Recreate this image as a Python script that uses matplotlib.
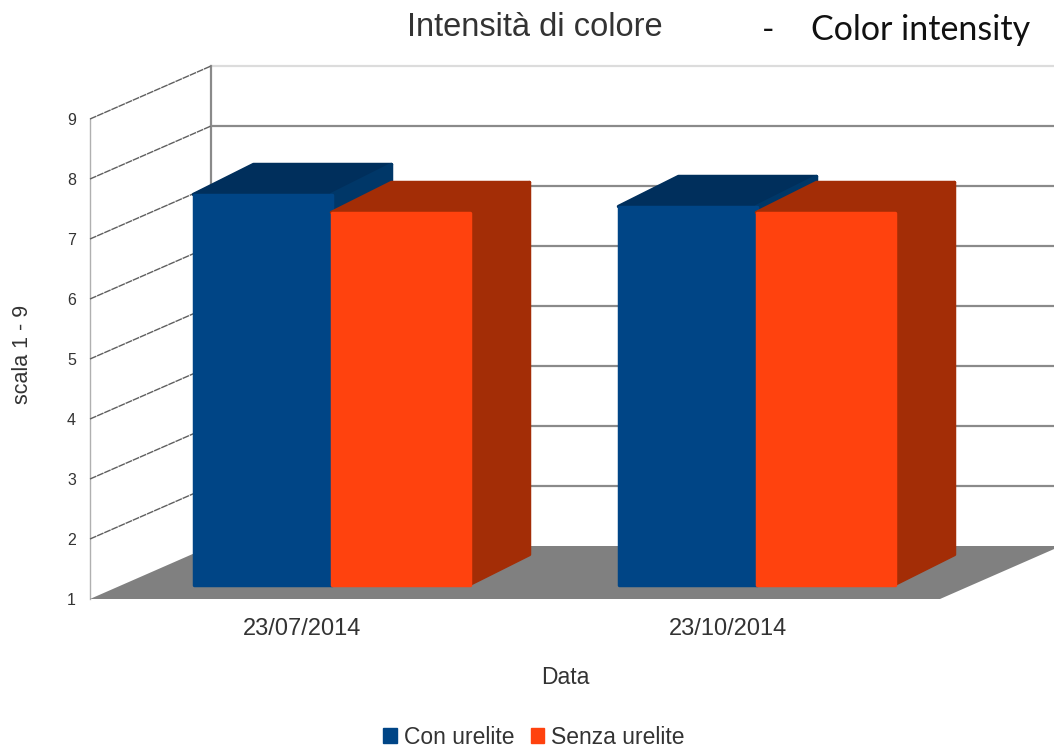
import matplotlib
matplotlib.use("Agg")
import matplotlib.pyplot as plt
from matplotlib.patches import Patch, Polygon

# Data
dates = ["23/07/2014", "23/10/2014"]
con_urelite = [7.5, 7.3]
senza_urelite = [7.2, 7.2]
scale = [1, 2, 3, 4, 5, 6, 7, 8, 9]

W, H = 1054, 749
fig = plt.figure(figsize=(W / 100, H / 100), dpi=100, facecolor="white")
ax = fig.add_axes([90 / W, 1 - 599 / H, 850 / W, 480 / H])
ax.set_xlim(-0.5, 1.5)
ax.set_ylim(1, 9)
for s in ax.spines.values():
    s.set_visible(False)
ax.patch.set_visible(False)

# pixels to data units
PX = 2 / 850
PY = 8 / 480
WALL_DX, WALL_DY = 121 * PX, 53 * PY
BAR_W = 138 * PX
BAR_OFF_X, BAR_OFF_Y = 29 * PX, 14.5 * PY
BAR_DX, BAR_DY = 60 * PX, 30 * PY


def poly(pts, color, z, lw=0.0):
    ax.add_patch(Polygon(pts, closed=True, facecolor=color, edgecolor=color, lw=lw,
                         joinstyle="round", clip_on=False, zorder=z))


def bar3d(left, value, front, top, side, z):
    x0 = left + BAR_OFF_X
    x1 = x0 + BAR_W
    y0 = 1 + BAR_OFF_Y
    y1 = value + BAR_OFF_Y
    poly([(x0, y1), (x1, y1), (x1 + BAR_DX, y1 + BAR_DY), (x0 + BAR_DX, y1 + BAR_DY)], top, z, 2.5)
    poly([(x1, y0), (x1 + BAR_DX, y0 + BAR_DY), (x1 + BAR_DX, y1 + BAR_DY), (x1, y1)], side, z + 0.1, 2.5)
    poly([(x0, y0), (x1, y0), (x1, y1), (x0, y1)], front, z + 0.2, 2.5)


# floor
xl, xr = ax.get_xlim()
poly([(xl, 1), (xr, 1), (xr + WALL_DX, 1 + WALL_DY), (xl + WALL_DX, 1 + WALL_DY)], "#808080", 1)

# walls
for v in scale[1:]:
    c = "#dcdcdc" if v == 9 else "#8a8a8a"
    ax.plot([xl + WALL_DX, xr + WALL_DX], [v + WALL_DY, v + WALL_DY], color=c, lw=1.6,
            clip_on=False, zorder=0.5)
    ax.plot([xl, xl + WALL_DX], [v, v + WALL_DY], color="#5f5f5f", lw=1.0, ls=(0, (5, 0.6)),
            clip_on=False, zorder=0.6)
ax.plot([xl + WALL_DX, xl + WALL_DX], [1 + WALL_DY, 9 + WALL_DY], color="#8a8a8a", lw=1.6,
        clip_on=False, zorder=0.5)
ax.plot([xl, xl], [1, 9], color="#b0b0b0", lw=1.0, clip_on=False, zorder=0.5)

# bars
for i in range(len(dates)):
    bar3d(i - BAR_W, con_urelite[i], "#004586", "#002f5c", "#003768", 3 + i * 2)
    bar3d(i, senza_urelite[i], "#ff420e", "#a32d06", "#a32d06", 4 + i * 2)

# axis text
ax.set_xticks(range(len(dates)), dates)
ax.set_yticks(scale, [str(v) for v in scale])
ax.tick_params(axis="both", length=0, labelcolor="#333333")
ax.tick_params(axis="x", labelsize=17, pad=14)
ax.tick_params(axis="y", labelsize=11.5, pad=10)
for t in ax.get_xticklabels() + ax.get_yticklabels():
    t.set_family("Liberation Sans")

fig.text(535 / W, 1 - 27 / H, "Intensità di colore", ha="center", va="center",
         fontsize=23.5, family="Liberation Sans", color="#333333")
fig.text(921 / W, 1 - 30 / H, "Color intensity", ha="center", va="center",
         fontsize=24.5, family="Lato", color="#111111")
fig.text(768 / W, 1 - 31 / H, "-", ha="center", va="center",
         fontsize=24, family="Lato", color="#111111")
fig.text(565 / W, 1 - 678 / H, "Data", ha="center", va="center",
         fontsize=16.5, family="Liberation Sans", color="#333333")
fig.text(23 / W, 1 - 354 / H, "scala 1 - 9", ha="center", va="center", rotation=90,
         fontsize=15.5, family="Liberation Sans", color="#333333")

# legend
handles = [Patch(color="#004586", label="Con urelite"), Patch(color="#ff420e", label="Senza urelite")]
fig.legend(handles=handles, loc="center", bbox_to_anchor=(534 / W, 1 - 737 / H), ncol=2,
           frameon=False, handlelength=0.6, handleheight=0.6, handletextpad=0.3,
           columnspacing=0.7, labelcolor="#333333",
           prop={"family": "Liberation Sans", "size": 16.5})

fig.savefig("out.png", dpi=100)
